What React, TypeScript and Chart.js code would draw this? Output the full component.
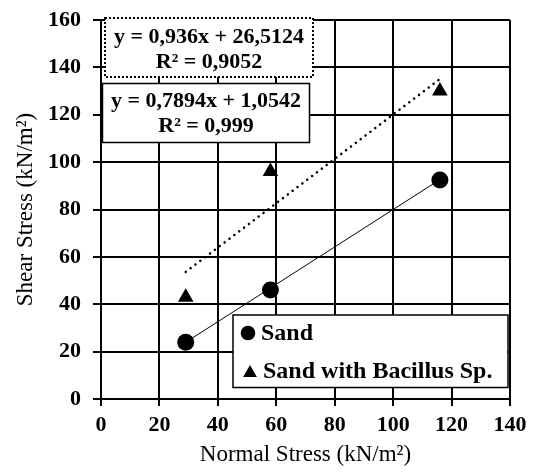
import React, { useEffect, useRef } from "react";
import { Chart, registerables } from "chart.js";

Chart.register(...registerables);

// ---- data ----
const sandX = [29, 58, 116];
const sandY = [24, 46, 92.5];
const bacX = [29, 58, 116];
const bacY = [43, 96, 130];
const sandFit = [0.7894, 1.0542]; // slope, intercept
const bacFit = [0.936, 26.5124];
const sandEq = ["y = 0,7894x + 1,0542", "R² = 0,999"];
const bacEq = ["y = 0,936x + 26,5124", "R² = 0,9052"];
const seriesNames = ["Sand", "Sand with Bacillus Sp."];
const xTitle = "Normal Stress (kN/m²)";
const yTitle = "Shear Stress (kN/m²)";

const SERIF = "'Liberation Serif', 'Times New Roman', serif";

function fitLine(xs: number[], fit: number[]) {
  const lo = Math.min(...xs);
  const hi = Math.max(...xs);
  return [
    { x: lo, y: fit[0] * lo + fit[1] },
    { x: hi, y: fit[0] * hi + fit[1] },
  ];
}

function drawTri(ctx: CanvasRenderingContext2D, cx: number, cy: number, r: number) {
  ctx.beginPath();
  ctx.moveTo(cx, cy - r);
  ctx.lineTo(cx + r * Math.sin(Math.PI / 3), cy + r * 0.5);
  ctx.lineTo(cx - r * Math.sin(Math.PI / 3), cy + r * 0.5);
  ctx.closePath();
  ctx.fill();
}

const overlayPlugin = {
  id: "overlay",
  afterDatasetsDraw(chart: any) {
    const ctx: CanvasRenderingContext2D = chart.ctx;
    ctx.save();
    ctx.font = `bold 22px ${SERIF}`;
    ctx.textAlign = "center";
    ctx.textBaseline = "middle";
    // dotted equation box (Bacillus)
    ctx.fillStyle = "#fff";
    ctx.fillRect(105, 18, 208, 59);
    ctx.strokeStyle = "#000";
    ctx.lineWidth = 2;
    ctx.setLineDash([2, 2]);
    ctx.strokeRect(105, 18, 208, 59);
    ctx.setLineDash([]);
    ctx.fillStyle = "#000";
    ctx.fillText(bacEq[0], 209, 37);
    ctx.fillText(bacEq[1], 209, 62);
    // solid equation box (Sand)
    ctx.fillStyle = "#fff";
    ctx.fillRect(102.5, 83.5, 207, 59);
    ctx.lineWidth = 1.5;
    ctx.strokeRect(102.5, 83.5, 207, 59);
    ctx.fillStyle = "#000";
    ctx.fillText(sandEq[0], 206, 101);
    ctx.fillText(sandEq[1], 206, 126);
    // legend
    ctx.fillStyle = "#fff";
    ctx.fillRect(233, 315, 275, 72.5);
    ctx.lineWidth = 1.5;
    ctx.strokeRect(233, 315, 275, 72.5);
    ctx.fillStyle = "#000";
    ctx.beginPath();
    ctx.arc(248, 333, 7.3, 0, Math.PI * 2);
    ctx.fill();
    drawTri(ctx, 250, 373, 8);
    ctx.font = `bold 24px ${SERIF}`;
    ctx.textAlign = "left";
    ctx.fillText(seriesNames[0], 261, 334);
    ctx.fillText(seriesNames[1], 263, 372);
    ctx.restore();
  },
};

export default function App() {
  const ref = useRef<HTMLCanvasElement | null>(null);
  useEffect(() => {
    if (!ref.current) return;
    const chart = new Chart(ref.current, {
      type: "scatter",
      data: {
        datasets: [
          {
            type: "line",
            label: "sandFit",
            data: fitLine(sandX, sandFit),
            borderColor: "#000",
            borderWidth: 1,
            pointRadius: 0,
            fill: false,
          },
          {
            type: "line",
            label: "bacFit",
            data: fitLine(bacX, bacFit),
            borderColor: "#000",
            borderWidth: 2.5,
            borderDash: [0.1, 6],
            borderCapStyle: "round",
            pointRadius: 0,
            fill: false,
          },
          {
            label: seriesNames[0],
            data: sandX.map((x, i) => ({ x, y: sandY[i] })),
            pointStyle: "circle",
            pointRadius: 8.5,
            backgroundColor: "#000",
            borderColor: "#000",
            borderWidth: 0,
          },
          {
            label: seriesNames[1],
            data: bacX.map((x, i) => ({ x, y: bacY[i] })),
            pointStyle: "triangle",
            pointRadius: 9,
            backgroundColor: "#000",
            borderColor: "#000",
            borderWidth: 0,
          },
        ],
      } as any,
      options: {
        responsive: false,
        animation: false,
        clip: false as any,
        layout: { padding: { top: 20, right: 26, left: 0, bottom: 0 } },
        plugins: {
          legend: { display: false },
          tooltip: { enabled: false },
        },
        scales: {
          x: {
            type: "linear",
            min: 0,
            max: 140,
            ticks: {
              stepSize: 20,
              color: "#000",
              font: { family: SERIF, size: 22, weight: "bold" },
              padding: 6,
              maxRotation: 0,
            },
            grid: { color: "#000", lineWidth: 2, tickLength: 7, tickColor: "#000" },
            border: { color: "#000", width: 2 },
            title: {
              display: true,
              text: xTitle,
              color: "#000",
              font: { family: SERIF, size: 23 },
              padding: { top: 0, bottom: 4 },
            },
            afterFit: (s: any) => {
              s.height = 74;
              s.paddingLeft = 0;
              s.paddingRight = 0;
            },
          },
          y: {
            type: "linear",
            min: 0,
            max: 160,
            ticks: {
              stepSize: 20,
              color: "#000",
              font: { family: SERIF, size: 22, weight: "bold" },
              padding: 12,
            },
            grid: { color: "#000", lineWidth: 2, tickLength: 8, tickColor: "#000" },
            border: { color: "#000", width: 2 },
            title: {
              display: true,
              text: yTitle,
              color: "#000",
              font: { family: SERIF, size: 23 },
              padding: { top: 12, bottom: 0 },
            },
            afterFit: (s: any) => {
              s.width = 101;
              s.paddingTop = 0;
              s.paddingBottom = 0;
            },
          },
        },
      } as any,
      plugins: [overlayPlugin],
    });
    return () => chart.destroy();
  }, []);
  return (
    <div style={{ position: "absolute", left: 0, top: 0, width: 536, height: 473, background: "#fff" }}>
      <canvas ref={ref} width={536} height={473} style={{ width: 536, height: 473 }} />
    </div>
  );
}
